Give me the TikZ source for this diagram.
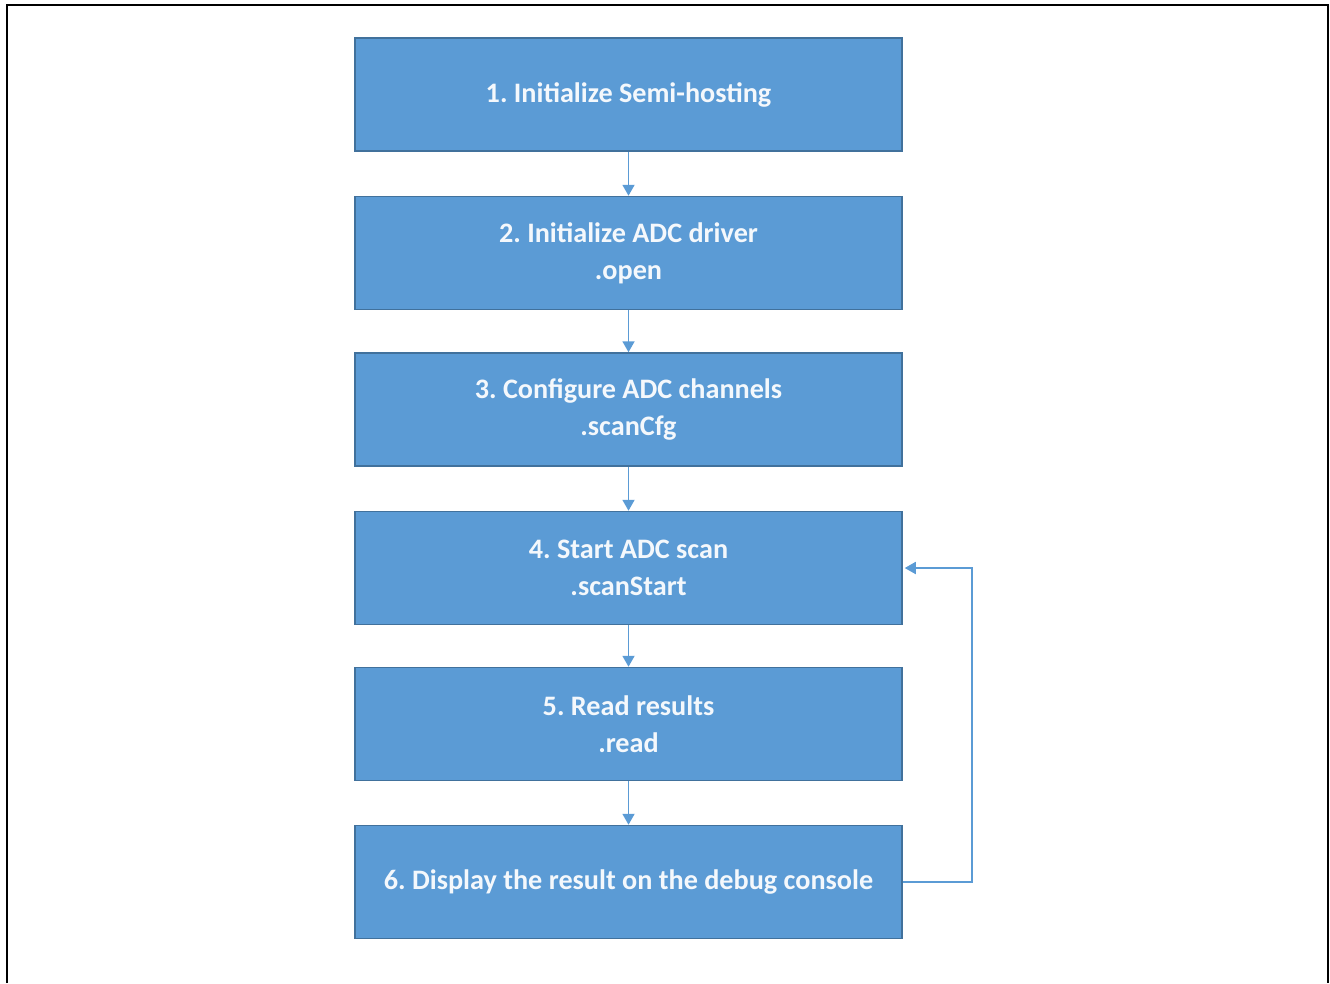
\documentclass[tikz,border=0pt]{standalone}
\usepackage{fontspec}
\setmainfont{Carlito}
\usetikzlibrary{arrows.meta}
\definecolor{boxfill}{HTML}{5B9BD5}
\definecolor{boxedge}{HTML}{41719C}
\definecolor{arrowcol}{HTML}{5B9BD5}
\definecolor{boxtext}{HTML}{F4F8FC}
\frenchspacing
\begin{document}
\begin{tikzpicture}[x=1pt,y=-1pt,
  stepbox/.style={draw=boxedge, line width=1.5pt, fill=boxfill, minimum width=547pt, minimum height=113pt,
    inner sep=0pt, text=boxtext, font=\fontsize{28.2}{37}\selectfont\bfseries, align=center},
  conn/.style={draw=arrowcol, line width=1.8pt, -{Triangle[width=12pt,length=11pt]}}]
\useasboundingbox (0,0) rectangle (1330,983);
\draw[line width=2.5pt] (7,983) -- (7,5) -- (1328,5) -- (1328,983);
\node[stepbox] (s1) at (628.5,94.5) {1. Initialize Semi-hosting};
\node[stepbox] (s2) at (628.5,253) {2. Initialize ADC driver\\.open};
\node[stepbox] (s3) at (628.5,409.5) {3. Configure ADC channels\\.scanCfg};
\node[stepbox] (s4) at (628.5,568) {4. Start ADC scan\\.scanStart};
\node[stepbox] (s5) at (628.5,724) {5. Read results\\.read};
\node[stepbox] (s6) at (628.5,882) {6. Display the result on the debug console};
\coordinate (c1) at (972,882);
\coordinate (c2) at (972,568);
\draw[conn] (s1) -- (s2);
\draw[conn] (s2) -- (s3);
\draw[conn] (s3) -- (s4);
\draw[conn] (s4) -- (s5);
\draw[conn] (s5) -- (s6);
\draw[conn] (s6.east) -- (c1) -- (c2) -- ([xshift=2pt]s4.east);
\end{tikzpicture}
\end{document}
